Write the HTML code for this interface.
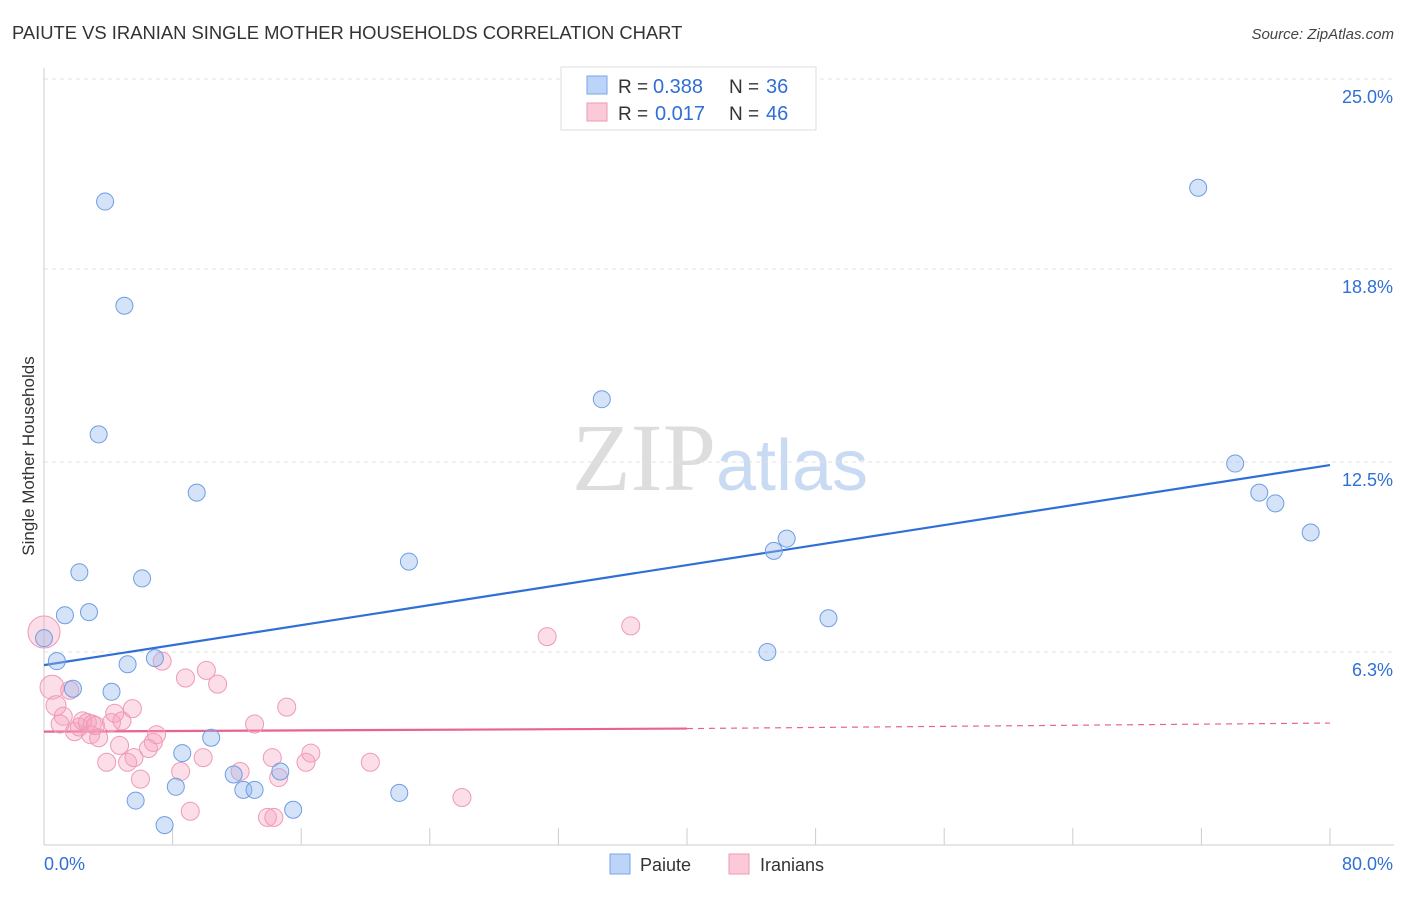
<!DOCTYPE html>
<html><head><meta charset="utf-8"><style>
body{margin:0;background:#fff;font-family:"Liberation Sans",sans-serif;}
svg text{font-family:"Liberation Sans",sans-serif;}
</style></head><body>
<svg id="chart" width="1406" height="892" xmlns="http://www.w3.org/2000/svg">
<text x="12" y="39" font-size="18.4" fill="#333">PAIUTE VS IRANIAN SINGLE MOTHER HOUSEHOLDS CORRELATION CHART</text>
<text x="1394" y="39" font-size="15" fill="#444" text-anchor="end" font-style="italic">Source: ZipAtlas.com</text>
<text x="720" y="490" font-size="96" text-anchor="middle"><tspan fill="#ddd" font-family="Liberation Serif">ZIP</tspan><tspan fill="#c9daf3" font-size="72">atlas</tspan></text>
<g id="grid"></g><g id="axes"></g>
<g id="trends"></g><g id="points"></g>
<text transform="translate(34,456) rotate(-90)" font-size="17" fill="#333" text-anchor="middle">Single Mother Households</text>
<g>
<rect x="561" y="67" width="255" height="63" fill="#fff" stroke="#ddd"/>
<rect x="587" y="76" width="20" height="18" fill="#bcd4f7" stroke="#7aa5e8"/>
<rect x="587" y="103" width="20" height="18" fill="#fbc9d8" stroke="#ef9ab5"/>
<text x="618" y="93" font-size="19" fill="#333">R =</text>
<text x="653" y="93" font-size="20" fill="#2f6fd6">0.388</text>
<text x="729" y="93" font-size="19" fill="#333">N =</text>
<text x="766" y="93" font-size="20" fill="#2f6fd6">36</text>
<text x="618" y="120" font-size="19" fill="#333">R =</text>
<text x="655" y="120" font-size="20" fill="#2f6fd6">0.017</text>
<text x="729" y="120" font-size="19" fill="#333">N =</text>
<text x="766" y="120" font-size="20" fill="#2f6fd6">46</text>
</g>
<g>
<rect x="610" y="854" width="20" height="20" fill="#bcd4f7" stroke="#7aa5e8"/>
<text x="640" y="871" font-size="18" fill="#333">Paiute</text>
<rect x="729" y="854" width="20" height="20" fill="#fbc9d8" stroke="#ef9ab5"/>
<text x="760" y="871" font-size="18" fill="#333">Iranians</text>
</g>
</svg>
<script>
const yTicks=[6.3,12.5,18.8,25.0];
const yTickLabels=["6.3%","12.5%","18.8%","25.0%"];
const xTickCount=[0,8,16,24,32,40,48,56,64,72,80];
const paiuteX=[3.8,5.0,3.4,9.5,2.2,6.1,1.3,2.8,0,0.8,5.2,6.9,1.8,4.2,10.4,8.6,11.8,8.2,12.4,13.1,14.7,5.7,7.5,15.5,22.1,22.7,34.7,45.0,45.4,46.2,48.8,71.8,74.1,75.6,76.6,78.8];
const paiuteY=[21.0,17.6,13.4,11.5,8.9,8.7,7.5,7.6,6.75,6.0,5.9,6.1,5.1,5.0,3.5,3.0,2.3,1.9,1.8,1.8,2.4,1.45,0.65,1.15,1.7,9.25,14.55,6.3,9.6,10.0,7.4,21.45,12.45,11.5,11.15,10.2];
const iranX=[0,0.5,0.75,1.2,1.0,1.6,1.9,2.2,2.4,2.7,3.0,2.9,3.4,3.9,4.2,4.4,4.85,4.7,5.2,5.6,5.5,6.0,6.5,6.8,7.0,7.35,8.5,8.8,9.1,9.9,10.1,10.8,12.2,13.1,14.2,13.9,14.3,14.6,15.1,16.3,16.6,20.3,26.0,31.3,36.5,3.2];
const iranY=[6.95,5.15,4.55,4.2,3.95,5.05,3.7,3.85,4.05,4.0,3.95,3.6,3.5,2.7,4.0,4.3,4.05,3.25,2.7,2.85,4.45,2.15,3.15,3.35,3.6,6.0,2.4,5.45,1.1,2.85,5.7,5.25,2.4,3.95,2.85,0.9,0.9,2.2,4.5,2.7,3.0,2.7,1.55,6.8,7.15,3.9];
const iranSize=[16,12,10,9,9,9,9,9,9,9,9,9,9,9,9,9,9,9,9,9,9,9,9,9,9,9,9,9,9,9,9,9,9,9,9,9,9,9,9,9,9,9,9,9,9,9];
const blueTrend=[5.87,12.4];
const pinkTrend=[3.70,3.80,3.98];
const NS="http://www.w3.org/2000/svg";
const X=v=>44+v*(1286/80), Y=v=>845-v*30.64;
function mk(t,a,p){const e=document.createElementNS(NS,t);for(const k in a)e.setAttribute(k,a[k]);p.appendChild(e);return e;}
const grid=document.getElementById('grid'),axes=document.getElementById('axes');
yTicks.forEach((t,i)=>{
 const l=mk('line',{x1:44,x2:1394,y1:Y(t),y2:Y(t),stroke:'#e2e2e2','stroke-dasharray':'4,4'},grid);
 
 const tx=mk('text',{x:1393,y:Y(t)+24,'font-size':18,fill:'#2f6fd6','text-anchor':'end'},axes);
 tx.textContent=yTickLabels[i];
 
});
mk('line',{x1:44,x2:44,y1:68,y2:845,stroke:'#ccc'},axes);
mk('line',{x1:44,x2:1394,y1:845,y2:845,stroke:'#ccc'},axes);
xTickCount.forEach(t=>{const l=mk('line',{x1:X(t),x2:X(t),y1:828,y2:845,stroke:'#ccc'},axes);
 });
let a=mk('text',{x:44,y:870,'font-size':18,fill:'#2f6fd6'},axes);a.textContent='0.0%';

a=mk('text',{x:1393,y:870,'font-size':18,fill:'#2f6fd6','text-anchor':'end'},axes);a.textContent='80.0%';

const tr=document.getElementById('trends');
let t1=mk('line',{x1:X(0),y1:Y(blueTrend[0]),x2:X(80),y2:Y(blueTrend[1]),stroke:'#2f6fd6','stroke-width':2.2},tr);

let t2=mk('line',{x1:X(0),y1:Y(pinkTrend[0]),x2:X(40),y2:Y(pinkTrend[1]),stroke:'#e8638f','stroke-width':2.2},tr);

let t3=mk('line',{x1:X(40),y1:Y(pinkTrend[1]),x2:X(80),y2:Y(pinkTrend[2]),stroke:'#e8638f','stroke-width':1.2,'stroke-dasharray':'6,5'},tr);

const pts=document.getElementById('points');
iranX.forEach((v,i)=>{const c=mk('circle',{cx:X(v),cy:Y(iranY[i]),r:iranSize[i],fill:'rgba(246,160,188,0.35)',stroke:'#ef9ab5','stroke-width':1},pts);
 });
paiuteX.forEach((v,i)=>{const c=mk('circle',{cx:X(v),cy:Y(paiuteY[i]),r:8.5,fill:'rgba(150,185,240,0.4)',stroke:'#6f9de3','stroke-width':1},pts);
 });
</script>
</body></html>
